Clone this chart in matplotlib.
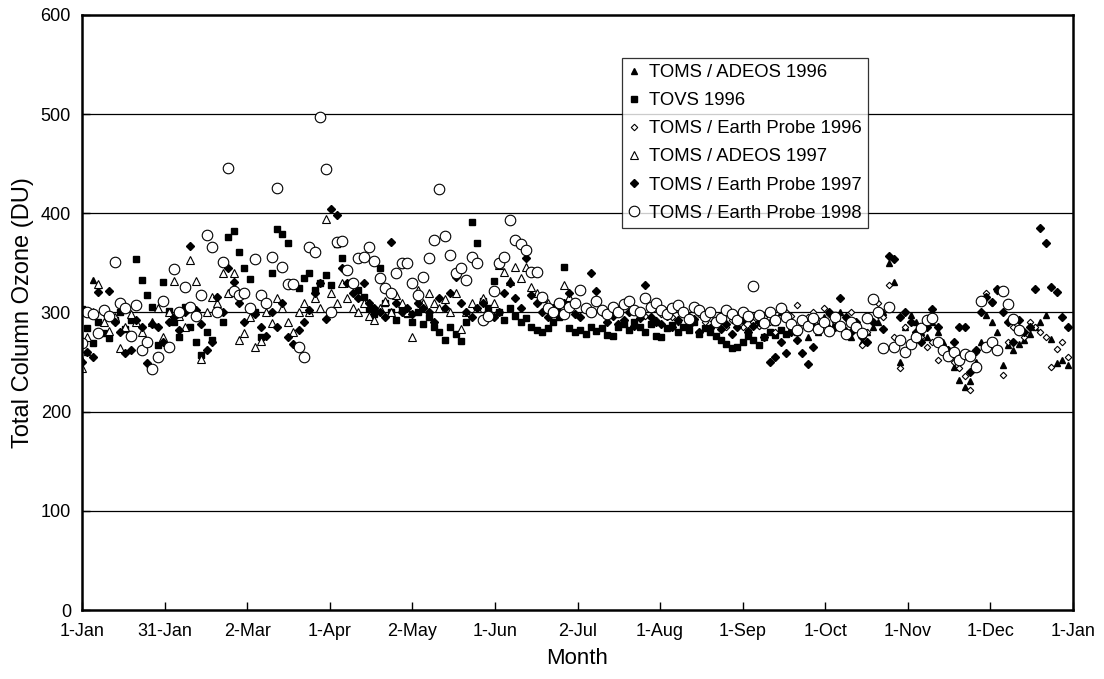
import numpy as np
import matplotlib.pyplot as plt

plt.rcParams['font.family'] = ['Liberation Sans', 'DejaVu Sans']

# Daily total column ozone (DU), one reading every second day.
# Each series is given by its first day-of-year and the list of values.
adeos96_jan_start = 0
adeos96_jan_du = [252, 260, 333, 328]
adeos96_start = 254
adeos96_du = [300, 290, 300, 295, 285, 280, 292, 275, 288, 280,
              295, 285, 290, 300, 282, 275, 288, 270, 280, 285,
              290, 300, 350, 331, 250, 285, 297, 290, 280, 275,
              290, 280, 270, 260, 245, 232, 225, 231, 250, 270,
              297, 290, 280, 247, 267, 262, 268, 272, 278, 285,
              290, 297, 273, 249, 252, 247]

tovs96_start = 0
tovs96_du = [304, 284, 269, 290, 279, 274, 292, 300, 283, 292,
             354, 333, 318, 306, 267, 331, 301, 290, 275, 306,
             285, 270, 257, 280, 272, 300, 290, 376, 382, 361,
             345, 334, 300, 275, 309, 340, 384, 379, 370, 330,
             325, 335, 340, 323, 330, 338, 328, 369, 355, 343,
             330, 323, 316, 305, 298, 345, 310, 300, 292, 305,
             298, 290, 300, 288, 295, 285, 280, 272, 285, 278,
             271, 290, 391, 370, 312, 305, 332, 300, 292, 305,
             296, 290, 294, 285, 282, 280, 284, 290, 295, 346,
             284, 280, 282, 278, 285, 281, 284, 277, 276, 285,
             288, 282, 290, 285, 280, 288, 276, 275, 284, 287,
             280, 285, 282, 290, 278, 284, 280, 276, 272, 268,
             264, 265, 270, 276, 272, 267, 275, 280, 277, 282,
             278]

ep96_start = 206
ep96_du = [300, 296, 305, 292, 298, 302, 295, 290, 300, 296,
           292, 298, 290, 294, 288, 296, 285, 292, 290, 285,
           282, 290, 286, 295, 290, 280, 307, 300, 296, 308,
           290, 295, 300, 292, 305, 298, 290, 285, 294, 300,
           288, 267, 280, 290, 310, 295, 328, 275, 244, 285,
           290, 280, 275, 265, 270, 252, 262, 258, 250, 244,
           236, 222, 260, 300, 320, 310, 322, 237, 270, 285,
           280, 275, 290, 285, 280, 275, 245, 263, 270, 255]

adeos97_start = 0
adeos97_du = [244, 275, 300, 329, 290, 281, 295, 264, 285, 298,
              290, 280, 270, 290, 305, 275, 300, 332, 296, 285,
              353, 332, 253, 300, 316, 310, 340, 320, 340, 272,
              279, 295, 265, 271, 300, 289, 315, 305, 290, 280,
              300, 310, 300, 315, 305, 394, 320, 310, 330, 315,
              305, 300, 310, 296, 292, 305, 312, 300, 318, 310,
              300, 275, 323, 310, 320, 310, 305, 314, 300, 320,
              283, 300, 310, 305, 315, 300, 310, 348, 341, 332,
              346, 335, 346, 326, 320, 315, 310, 305, 300, 328,
              316]

ep97_start = 0
ep97_du = [250, 260, 255, 321, 300, 322, 290, 280, 259, 262,
           292, 285, 249, 288, 285, 270, 290, 295, 282, 300,
           367, 303, 288, 262, 270, 316, 300, 345, 331, 310,
           290, 305, 298, 285, 276, 300, 285, 310, 275, 268,
           282, 290, 302, 320, 330, 293, 404, 398, 345, 330,
           320, 315, 330, 310, 305, 300, 295, 371, 310, 300,
           305, 298, 310, 305, 300, 290, 315, 305, 320, 336,
           310, 300, 295, 305, 310, 300, 295, 300, 320, 330,
           315, 305, 355, 318, 310, 300, 295, 305, 300, 310,
           320, 298, 295, 305, 340, 322, 300, 290, 296, 288,
           292, 300, 286, 294, 328, 295, 290, 288, 296, 285,
           292, 300, 287, 293, 280, 296, 284, 290, 283, 288,
           278, 285, 292, 280, 286, 290, 275, 250, 255, 270,
           259, 280, 272, 259, 248, 265, 285, 290, 300, 285,
           315, 295, 280, 290, 275, 270, 290, 298, 283, 357,
           354, 295, 300, 290, 280, 270, 285, 304, 285, 265,
           262, 270, 285, 285, 240, 262, 300, 316, 311, 324,
           300, 290, 270, 292, 280, 285, 324, 385, 370, 326,
           321, 295, 285]

ep98_start = 0
ep98_du = [269, 300, 298, 279, 303, 296, 351, 310, 305, 276,
           308, 262, 270, 243, 255, 312, 265, 344, 300, 326,
           306, 296, 318, 378, 366, 300, 351, 446, 322, 318,
           320, 305, 354, 318, 310, 356, 426, 346, 329, 329,
           265, 255, 366, 361, 497, 445, 300, 371, 372, 343,
           330, 355, 356, 366, 352, 335, 325, 320, 340, 350,
           350, 330, 318, 336, 355, 373, 425, 377, 358, 340,
           345, 333, 356, 350, 292, 296, 322, 350, 356, 393,
           373, 369, 363, 341, 341, 316, 305, 300, 310, 298,
           306, 310, 323, 305, 300, 312, 303, 298, 306, 300,
           309, 312, 303, 300, 315, 306, 310, 303, 298, 305,
           308, 300, 293, 306, 302, 296, 300, 290, 294, 302,
           298, 292, 300, 296, 327, 297, 289, 300, 292, 305,
           295, 288, 282, 292, 286, 294, 283, 290, 281, 295,
           286, 278, 290, 285, 279, 294, 314, 300, 264, 306,
           265, 272, 260, 268, 275, 284, 292, 294, 270, 262,
           256, 260, 252, 258, 256, 245, 312, 265, 270, 262,
           322, 309, 293, 282]

month_labels = ['1-Jan', '31-Jan', '2-Mar', '1-Apr', '2-May', '1-Jun', '2-Jul',
                '1-Aug', '1-Sep', '1-Oct', '1-Nov', '1-Dec', '1-Jan']


def day_axis(start, values):
    return np.arange(start, start + 2 * len(values), 2)


adeos96_days = np.concatenate([day_axis(adeos96_jan_start, adeos96_jan_du),
                               day_axis(adeos96_start, adeos96_du)])
adeos96_all = np.concatenate([adeos96_jan_du, adeos96_du])

fig = plt.figure(figsize=(11.04, 6.79), dpi=100)
ax = fig.add_axes([0.0743, 0.1016, 0.8976, 0.8764])

# horizontal gridlines behind the points
for yv in range(100, 600, 100):
    ax.axhline(yv, color='black', lw=0.9, zorder=0)

mk = dict(linestyle='none', markeredgecolor='black')
ax.plot(adeos96_days, adeos96_all, marker='^', ms=5, color='black',
        label='TOMS / ADEOS 1996', **mk)
ax.plot(day_axis(tovs96_start, tovs96_du), tovs96_du, marker='s', ms=4.7,
        color='black', label='TOVS 1996', **mk)
ax.plot(day_axis(ep96_start, ep96_du), ep96_du, marker='D', ms=3.3,
        markerfacecolor='white', mew=0.8, label='TOMS / Earth Probe 1996', **mk)
ax.plot(day_axis(adeos97_start, adeos97_du), adeos97_du, marker='^', ms=5.3,
        markerfacecolor='white', mew=0.8, label='TOMS / ADEOS 1997', **mk)
ax.plot(day_axis(ep97_start, ep97_du), ep97_du, marker='D', ms=4.3,
        color='black', label='TOMS / Earth Probe 1997', **mk)
ax.plot(day_axis(ep98_start, ep98_du), ep98_du, marker='o', ms=7.6,
        markerfacecolor='white', mew=0.8, label='TOMS / Earth Probe 1998', **mk)

ax.set_xlim(0, 366)
ax.set_ylim(0, 600)
ax.set_xticks(np.arange(13) * 30.5)
ax.set_xticklabels(month_labels)
ax.set_yticks(range(0, 700, 100))
ax.tick_params(axis='both', direction='in', labelsize=13, length=6, width=1,
               colors='black')
ax.tick_params(axis='x', pad=9)
ax.tick_params(axis='y', pad=8)
for side in ax.spines.values():
    side.set_linewidth(1.8)
    side.set_color('black')

ax.set_xlabel('Month', fontsize=16, labelpad=6)
ax.set_ylabel('Total Column Ozone (DU)', fontsize=17, labelpad=5)

leg = ax.legend(loc='upper left', bbox_to_anchor=(0.545, 0.928), fontsize=13.3,
                frameon=True, fancybox=False, edgecolor='black',
                handlelength=0.6, handletextpad=0.5, labelspacing=0.6,
                borderpad=0.35, borderaxespad=0, markerscale=1.0)
leg.get_frame().set_linewidth(0.9)
leg.set_zorder(5)

fig.savefig('out.png', dpi=100)
